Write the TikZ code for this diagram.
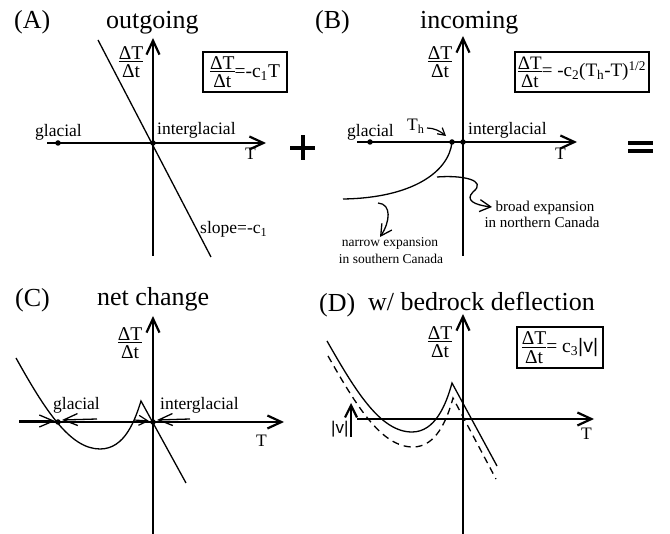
\documentclass[tikz,border=0pt]{standalone}
\usepackage{fontspec}
\setmainfont{Liberation Serif}
\newfontfamily\arialfont{Liberation Sans}
\usetikzlibrary{arrows.meta}
\newcommand{\dTdt}{$\vcenter{\halign{\hfil##\hfil\cr ΔT\cr\noalign{\kern2.4pt\hrule height 1pt\kern2.4pt}Δt\cr}}$}
\tikzset{
  axis/.style={line width=2.2pt, -{Straight Barb[length=14pt,width=13pt]}},
  crv/.style={line width=1.3pt},
  annarrow/.style={line width=1.3pt, -{Straight Barb[length=11pt,width=12pt]}},
  flowarrow/.style={line width=1.3pt, -{Straight Barb[length=14pt,width=12pt]}},
  smallarrow/.style={line width=1.2pt, -{Straight Barb[length=7pt,width=8pt]}},
  pdot/.style={circle, fill=black, inner sep=0pt, minimum size=5.5pt},
  ttl/.style={font=\fontsize{26}{30}\selectfont, inner sep=0pt, anchor=base west},
  lab/.style={font=\fontsize{17.5}{20}\selectfont, inner sep=0pt, anchor=base west},
  fracl/.style={font=\fontsize{19.5}{23}\selectfont, inner sep=0pt},
  eqbox/.style={draw, line width=1.2pt, inner sep=0pt, font=\fontsize{19.5}{23}\selectfont},
  note/.style={font=\fontsize{13.5}{16}\selectfont, inner sep=0pt, anchor=base},
  noteb/.style={font=\fontsize{15}{18}\selectfont, inner sep=0pt, anchor=base},
}
\begin{document}
\begin{tikzpicture}[x=1pt,y=-1pt]
\useasboundingbox (0,0) rectangle (670,534);

% ---------------- Panel A ----------------
\node[ttl] (tA) at (14,29) {(A)};
\node[ttl] (ttA) at (106,29) {outgoing};
\coordinate (Ax0) at (47,143); \coordinate (Ax1) at (266,143);
\coordinate (Ay0) at (153,256); \coordinate (Ay1) at (153,38);
\draw[axis] (Ax0) -- (Ax1);
\draw[axis] (Ay0) -- (Ay1);
\coordinate (Al0) at (98,40); \coordinate (Al1) at (211,257);
\draw[crv] (Al0) -- (Al1);
\node[pdot] (Ag) at (58,143) {};
\node[pdot] (Ao) at (153,143) {};
\node[lab] (Alg) at (35,137) {glacial};
\node[lab] (Ali) at (157,135) {interglacial};
\node[lab] (AT) at (245,160) {T};
\node[lab] (Asl) at (200,234) {slope=-c\textsubscript{1}};
\node[fracl] (Afr) at (131,62) {\dTdt};
\node[eqbox, minimum width=84pt, minimum height=40pt] (Abox) at (245,72) {\dTdt=-c\textsubscript{1}T};

% plus
\draw[line width=4pt] (290,148) -- (315,148);
\draw[line width=4pt] (302.5,135.5) -- (302.5,160.5);

% ---------------- Panel B ----------------
\node[ttl] (tB) at (315,29) {(B)};
\node[ttl] (ttB) at (420,29) {incoming};
\coordinate (Bx0) at (357,142); \coordinate (Bx1) at (577,142);
\coordinate (By0) at (463,256); \coordinate (By1) at (463,36);
\draw[axis] (Bx0) -- (Bx1);
\draw[axis] (By0) -- (By1);
\node[pdot] (Bg) at (370,142) {};
\node[pdot] (Bh) at (452,142) {};
\node[pdot] (Bo) at (463,142) {};
\node[lab] (Blg) at (347,137) {glacial};
\node[lab] (Bth) at (407,131) {T\textsubscript{h}};
\node[lab] (Bli) at (468,135) {interglacial};
\node[lab] (BT) at (555,160) {T};
\node[fracl] (Bfr) at (440,62) {\dTdt};
\node[eqbox, minimum width=134pt, minimum height=40pt, font=\fontsize{19}{23}\selectfont] (Bbox) at (582,72)
  {\dTdt= -c\textsubscript{2}(T\textsubscript{h}-T)\textsuperscript{1/2}};
\coordinate (Bc1) at (343,199);
\draw[crv] (Bh.center) .. controls (449,172) and (412,198) .. (Bc1);
% T_h arrow
\coordinate (Btha) at (427,128); \coordinate (Bthb) at (446,136);
\draw[smallarrow] (Btha) .. controls (434,128) and (440,131) .. (Bthb);
% broad expansion arrow
\coordinate (Bb0) at (437,177); \coordinate (Bb1) at (492,207);
\draw[annarrow] (Bb0) .. controls (462,175) and (488,180) .. (473,192)
  .. controls (465,200) and (474,205) .. (Bb1);
\node[noteb] (Bn1) at (545,212) {broad expansion};
\node[noteb] (Bn2) at (542,228) {in northern Canada};
% narrow expansion arrow
\coordinate (Bn0) at (378,203); \coordinate (Bnt) at (380,237);
\draw[annarrow] (Bn0) .. controls (392,204) and (390,222) .. (Bnt);
\node[note] (Bm1) at (390,247) {narrow expansion};
\node[note] (Bm2) at (391,264) {in southern Canada};

% equals
\draw[line width=3.8pt] (628,143.3) -- (653,143.3);
\draw[line width=3.8pt] (628,151.3) -- (653,151.3);

% ---------------- Panel C ----------------
\node[ttl] (tC) at (15,307) {(C)};
\node[ttl] (ttC) at (97,306) {net change};
\coordinate (Cx0) at (19,422); \coordinate (Cx1) at (284,422);
\coordinate (Cy0) at (153,534); \coordinate (Cy1) at (153,316);
\draw[axis] (Cx0) -- (Cx1);
\draw[axis] (Cy0) -- (Cy1);
\coordinate (Cc0) at (16,358); \coordinate (Cmin) at (100,449);
\coordinate (Cpk) at (141,401); \coordinate (Cc1) at (186,483);
\draw[crv] (Cc0) .. controls (45,410) and (70,449) .. (Cmin)
  .. controls (125,449) and (135,420) .. (Cpk) -- (Cc1);
\node[pdot] (Cg) at (58,422) {};
\node[pdot] (Co) at (153,422) {};
\node[lab] (Clg) at (53,410) {glacial};
\node[lab] (Cli) at (160,410) {interglacial};
\node[lab] (CT) at (256,447) {T};
\node[fracl] (Cfr) at (130,343) {\dTdt};
\coordinate (Ca0) at (19,421); \coordinate (Ca1) at (55,421);
\coordinate (Cb0) at (97,419); \coordinate (Cb1) at (62,420);
\coordinate (Cd0) at (134,420); \coordinate (Cd1) at (149,421);
\coordinate (Ce0) at (190,419); \coordinate (Ce1) at (157,420);
\draw[flowarrow] (Ca0) -- (Ca1);
\draw[flowarrow] (Cb0) -- (Cb1);
\draw[line width=1.2pt, -{Straight Barb[length=9pt,width=10pt]}] (Cd0) -- (Cd1);
\draw[flowarrow] (Ce0) -- (Ce1);

% ---------------- Panel D ----------------
\node[ttl] (tD) at (319,312) {(D)};
\node[ttl] (ttD) at (368,311) {w/ bedrock deflection};
\coordinate (Dx0) at (357,419); \coordinate (Dx1) at (594,419);
\coordinate (Dy0) at (463,534); \coordinate (Dy1) at (463,314);
\draw[axis] (Dx0) -- (Dx1);
\draw[axis] (Dy0) -- (Dy1);
\coordinate (Dc0) at (327,341); \coordinate (Dmin) at (412,432);
\coordinate (Dpk) at (452,383); \coordinate (Dc1) at (497,466);
\draw[crv] (Dc0) .. controls (355,390) and (380,432) .. (Dmin)
  .. controls (435,432) and (446,405) .. (Dpk) -- (Dc1);
\begin{scope}[yshift=-15pt, xshift=1pt]
\coordinate (Ec0) at (327,341); \coordinate (Emin) at (412,432);
\coordinate (Epk) at (452,383); \coordinate (Ec1) at (495,464);
\draw[crv, dash pattern=on 7pt off 5pt] (Ec0) .. controls (355,390) and (380,432) .. (Emin)
  .. controls (435,432) and (446,405) .. (Epk) -- (Ec1);
\end{scope}
\coordinate (Dv0) at (351,437); \coordinate (Dv1) at (351,403);
\draw[line width=2.2pt, -{Straight Barb[length=12pt,width=12pt]}] (Dv0) -- (Dv1);
\node[lab, font=\arialfont\fontsize{17}{20}\selectfont] (Dvl) at (331,434) {|v|};
\node[lab] (DT) at (581,440) {T};
\node[fracl] (Dfr) at (440,342) {\dTdt};
\node[eqbox, minimum width=86pt, minimum height=41pt] (Dbox) at (560,347.5)
  {\dTdt= c\textsubscript{3}{\arialfont |v|}};
\end{tikzpicture}
\end{document}
